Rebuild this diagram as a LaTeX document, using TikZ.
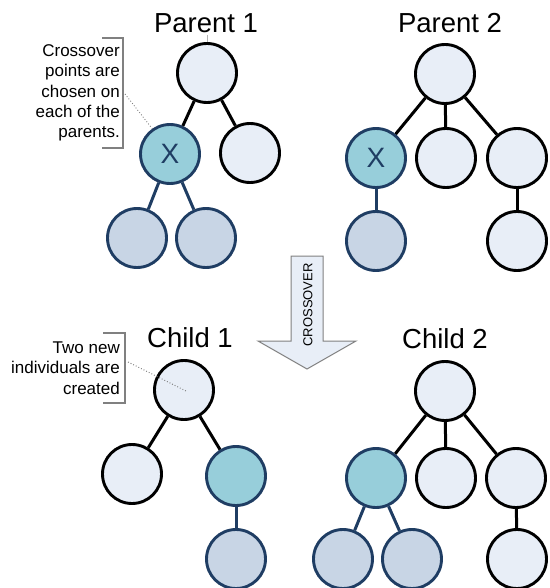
\documentclass[tikz,border=0pt]{standalone}
\usepackage{fontspec}
\setmainfont{Liberation Sans}
\begin{document}
\begin{tikzpicture}[x=1pt,y=-1pt,
  light/.style={circle,draw=black,fill=lightfill,line width=2.9pt,minimum size=59pt,inner sep=0pt},
  teal/.style={circle,draw=darkline,fill=tealfill,line width=2.9pt,minimum size=59pt,inner sep=0pt,text=darkline,font=\fontsize{28}{28}\selectfont},
  deep/.style={circle,draw=darkline,fill=deepfill,line width=2.9pt,minimum size=59pt,inner sep=0pt},
  blk/.style={draw=black,line width=3pt},
  blu/.style={draw=darkline,line width=3pt},
  title/.style={anchor=base,inner sep=0pt,font=\fontsize{27.5}{30}\selectfont},
  note/.style={anchor=east,align=right,inner sep=0pt,font=\fontsize{17}{20.3}\selectfont},
  bracket/.style={draw=bracketgray,line width=1.1pt},
  pointer/.style={draw=bracketgray,line width=0.9pt,dotted}
]
\definecolor{lightfill}{HTML}{E8EEF7}
\definecolor{tealfill}{HTML}{97CEDA}
\definecolor{deepfill}{HTML}{C8D5E5}
\definecolor{darkline}{HTML}{1F3D63}
\definecolor{bracketgray}{HTML}{808080}
\useasboundingbox (0,0) rectangle (549,588);

% Parent 1
\node[title] (t1) at (206,33) {Parent 1};
\node[light] (p1r) at (207,73) {};
\node[teal]  (p1x) at (170,154) {X};
\node[light] (p1b) at (250,153) {};
\node[deep]  (p1l) at (137,238) {};
\node[deep]  (p1m) at (206,238) {};
\draw[draw=gray!60,line width=0.6pt] (t1.south) ++(1,2) coordinate (t1tick) -- (p1r.north);
\draw[blk] (p1r) -- (p1x);
\draw[blk] (p1r) -- (p1b);
\draw[blu] (p1x) -- (p1l);
\draw[blu] (p1x) -- (p1m);

% Parent 2
\node[title] (t2) at (450,33) {Parent 2};
\node[light] (p2r) at (445,74) {};
\node[teal]  (p2x) at (376,158) {X};
\node[light] (p2m) at (446,158) {};
\node[light] (p2s) at (517,158) {};
\node[deep]  (p2l) at (376,241) {};
\node[light] (p2t) at (517,241) {};
\draw[blk] (p2r) -- (p2x);
\draw[blk] (p2r) -- (p2m);
\draw[blk] (p2r) -- (p2s);
\draw[blu] (p2x) -- (p2l);
\draw[blk] (p2s) -- (p2t);

% Notes
\node[note] (n1) at (120,93) {Crossover\\points are\\chosen on\\each of the\\parents.};
\draw[bracket] (102,38) -- (123,38) -- (123,148) -- (102,148);
\coordinate (b1) at (125,94);
\draw[pointer] (b1) -- (p1x.125);

% Crossover arrow
\draw[draw=bracketgray,fill=lightfill,line width=1pt]
  (291,256) -- (323,256) -- (323,341) -- (356,341) -- (307,369) -- (258,341) -- (291,341) -- cycle;
\node[rotate=90,inner sep=0pt,font=\fontsize{13}{13}\selectfont] (cx) at (308,305) {CROSSOVER};

% Child 1
\node[title] (t3) at (190,347) {Child 1};
\node[light] (c1r) at (184,390) {};
\node[light] (c1l) at (132,474) {};
\node[teal]  (c1x) at (236,476) {};
\node[deep]  (c1b) at (236,559) {};
\draw[blk] (c1r) -- (c1l);
\draw[blk] (c1r) -- (c1x);
\draw[blu] (c1x) -- (c1b);

\node[note] (n2) at (120,368) {Two new\\individuals are\\created};
\draw[bracket] (103,333) -- (125,333) -- (125,403) -- (103,403);
\coordinate (b2) at (128,362);
\coordinate (c1in) at (186,391);
\draw[pointer] (b2) -- (c1in);

% Child 2
\node[title] (t4) at (445,348) {Child 2};
\node[light] (c2r) at (445,391) {};
\node[teal]  (c2x) at (376,478) {};
\node[light] (c2m) at (446,478) {};
\node[light] (c2s) at (516,478) {};
\node[deep]  (c2a) at (343,559) {};
\node[deep]  (c2b) at (412,559) {};
\node[light] (c2t) at (517,559) {};
\draw[blk] (c2r) -- (c2x);
\draw[blk] (c2r) -- (c2m);
\draw[blk] (c2r) -- (c2s);
\draw[blu] (c2x) -- (c2a);
\draw[blu] (c2x) -- (c2b);
\draw[blk] (c2s) -- (c2t);
\end{tikzpicture}
\end{document}
